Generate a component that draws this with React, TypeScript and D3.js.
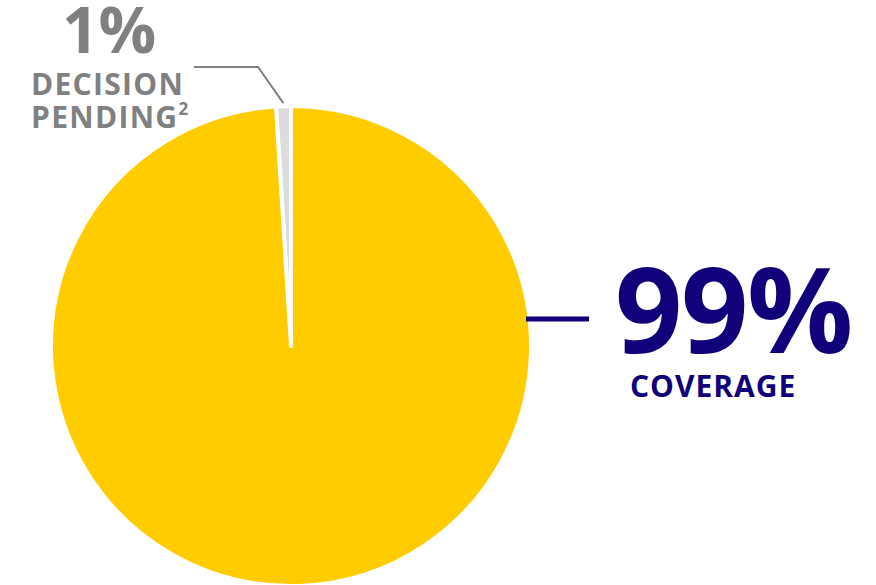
import React from "react";
import * as d3 from "d3";

const categories = ["Decision pending", "Coverage"];
const values = [1, 99];
const colors = ["#dcdcdc", "#ffcc00"];
const labels = ["1%", "99%"];
const subLabels = [["DECISION", "PENDING"], ["COVERAGE"]];

const W = 876;
const H = 585;
const cx = 291;
const cy = 346;
const R = 240;

export default function App() {
  const total = d3.sum(values);
  const startA = -2 * Math.PI * (values[0] / total);
  const pie = d3
    .pie<number>()
    .sort(null)
    .value((d) => d)
    .startAngle(startA)
    .endAngle(startA + 2 * Math.PI);
  const arcs = pie(values);
  const arc = d3.arc<d3.PieArcDatum<number>>().innerRadius(0).outerRadius(R);

  const g = arcs[0];
  const mid = (g.startAngle + g.endAngle) / 2;
  const tip: [number, number] = [cx + (R + 3) * Math.sin(mid), cy - (R + 3) * Math.cos(mid)];
  const grayLine = d3.line()([[194, 67], [258, 67], tip]);

  const font = "'Open Sans', sans-serif";
  return (
    <svg
      width={W}
      height={H}
      style={{ position: "absolute", left: 0, top: 0, background: "#fff" }}
    >
      <g>
        {arcs.map((a, i) => (
          <path
            key={categories[i]}
            d={arc(a) as string}
            transform={`translate(${cx},${cy})`}
            fill={colors[i]}
            stroke="#fff"
            strokeWidth={4}
            strokeLinejoin="round"
          />
        ))}
      </g>
      <path d={grayLine as string} fill="none" stroke="#808080" strokeWidth={2} />
      <line x1={526} x2={589} y1={319} y2={319} stroke="#10007a" strokeWidth={5} />
      <g fontFamily={font} fontWeight={700}>
        <text x={109} y={53} textAnchor="middle" fontSize={64} fill="#808080">
          {labels[0]}
        </text>
        <text x={31} y={95} fontSize={30} fill="#808080" letterSpacing={1.3}>
          {subLabels[0][0]}
        </text>
        <text x={31} y={128} fontSize={30} fill="#808080" letterSpacing={1.3}>
          {subLabels[0][1]}
          <tspan fontSize={17} dy={-13} letterSpacing={0}>2</tspan>
        </text>
        <text x={615} y={353} fontSize={118} fill="#10007a" letterSpacing={-1.5}>
          {labels[1]}
        </text>
        <text x={630} y={397} fontSize={30} fill="#10007a" letterSpacing={1}>
          {subLabels[1][0]}
        </text>
      </g>
    </svg>
  );
}
